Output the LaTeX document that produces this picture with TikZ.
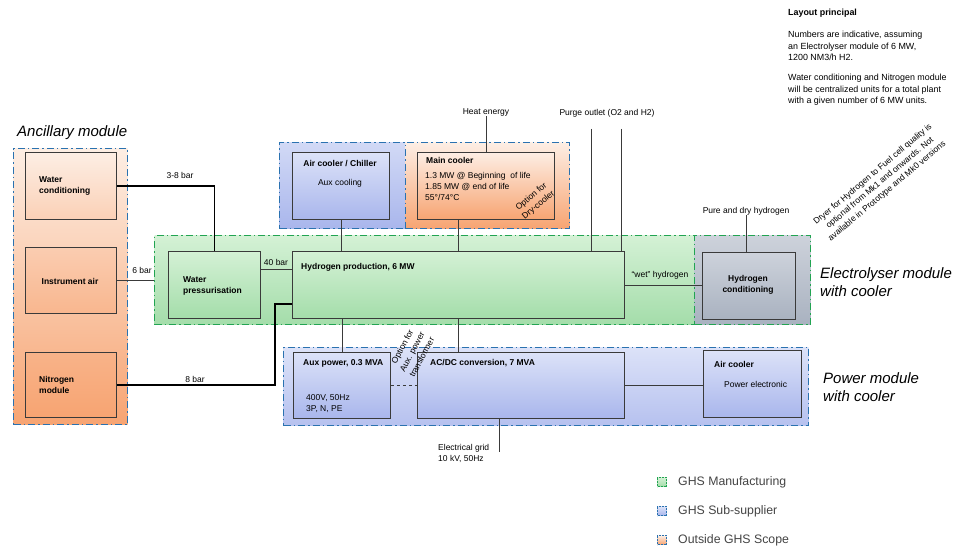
\documentclass[tikz,border=0pt]{standalone}
\usepackage{fontspec}
\setmainfont{Liberation Sans}
\usetikzlibrary{positioning}
% colours of the three scopes
\definecolor{orgtop}{HTML}{FDEEE4}
\definecolor{orgbot}{HTML}{F7A472}
\definecolor{blutop}{HTML}{DCE2F8}
\definecolor{blubot}{HTML}{A9B6EC}
\definecolor{grntop}{HTML}{D4F1D5}
\definecolor{grnbot}{HTML}{A4DDAA}
\definecolor{grytop}{HTML}{CDD2DB}
\definecolor{grybot}{HTML}{A9B2C0}
\definecolor{bluedash}{HTML}{2A72B0}
\definecolor{greendash}{HTML}{22A452}
\definecolor{boxline}{HTML}{3A3A3A}
\definecolor{legtext}{HTML}{444444}
\tikzset{
  module/.style={draw, line width=1.3pt, dash pattern=on 7pt off 3pt on 1.5pt off 3pt,
    anchor=north west, inner sep=0},
  unit/.style={draw=boxline, line width=0.8pt, anchor=north west, inner sep=0},
  tube/.style={draw=boxline, line width=0.7pt},
  pipe/.style={draw=black, line width=1.6pt},
  bx/.style={font=\fontsize{8.5}{11}\selectfont\bfseries, align=left, inner sep=0},
  sm/.style={font=\fontsize{8.5}{11}\selectfont, align=left, inner sep=0},
  note/.style={font=\fontsize{8.9}{11.3}\selectfont, align=left, inner sep=0, anchor=west},
  big/.style={font=\fontsize{15}{18}\selectfont\itshape, align=left, inner sep=0},
  legbox/.style={line width=1pt, dash pattern=on 2pt off 1pt, minimum size=9pt, inner sep=0},
  legtxt/.style={font=\fontsize{12.3}{14}\selectfont, text=legtext, anchor=west, inner sep=0},
}
\begin{document}
\begin{tikzpicture}[x=1pt,y=-1pt]
  \useasboundingbox[fill=white] (0,0) rectangle (966,553);

  % module frames
  \node[module, draw=bluedash, top color=orgtop, bottom color=orgbot,
    minimum width=114, minimum height=276] (anc) at (13,148) {};
  \node[module, draw=greendash, top color=grntop, bottom color=grnbot,
    minimum width=656, minimum height=89] (elec) at (154,235) {};
  \node[module, draw=greendash, top color=grytop, bottom color=grybot,
    minimum width=116, minimum height=89] (hcmod) at (694,235) {};
  \node[module, draw=bluedash, top color=blutop!80!blubot, bottom color=blubot,
    minimum width=126, minimum height=86] (acmod) at (279,142) {};
  \node[module, draw=bluedash, top color=orgtop, bottom color=orgbot,
    minimum width=164, minimum height=86] (mcmod) at (405,142) {};
  \node[module, draw=bluedash, top color=blutop, bottom color=blubot!85,
    minimum width=525, minimum height=78] (pwr) at (283,347) {};

  \node[big, anchor=west] at (17,133) {Ancillary module};
  \node[big, anchor=west] at (820,282) {Electrolyser module\\with cooler};
  \node[big, anchor=west] at (823,387) {Power module\\with cooler};

  % units
  \node[unit, top color=orgtop, bottom color=orgtop!60!orgbot,
    minimum width=91, minimum height=67] (wcond) at (25,152) {};
  \node[unit, top color=orgtop!55!orgbot, bottom color=orgtop!25!orgbot,
    minimum width=91, minimum height=66] (instr) at (25,247) {};
  \node[unit, top color=orgtop!20!orgbot, bottom color=orgbot,
    minimum width=91, minimum height=65] (nitro) at (25,352) {};
  \node[unit, top color=grntop, bottom color=grnbot,
    minimum width=92, minimum height=67] (wpres) at (168,251) {};
  \node[unit, top color=grntop, bottom color=grnbot,
    minimum width=332, minimum height=67] (h2prod) at (292,251) {};
  \node[unit, top color=grytop, bottom color=grybot,
    minimum width=93, minimum height=67] (h2cond) at (702,252) {};
  \node[unit, top color=blutop, bottom color=blubot,
    minimum width=97, minimum height=67] (aircool) at (292,152) {};
  \node[unit, top color=orgtop, bottom color=orgbot,
    minimum width=137, minimum height=67] (maincool) at (417,152) {};
  \node[unit, top color=blutop, bottom color=blubot,
    minimum width=97, minimum height=66] (aux) at (293,352) {};
  \node[unit, top color=blutop, bottom color=blubot,
    minimum width=207, minimum height=66] (acdc) at (417,352) {};
  \node[unit, top color=blutop, bottom color=blubot,
    minimum width=98, minimum height=67] (pcool) at (703,350) {};

  % unit texts
  \node[bx, anchor=west] at (39,186) {Water\\conditioning};
  \node[bx] at (70,281) {Instrument air};
  \node[bx, anchor=west] at (39,385) {Nitrogen\\module};
  \node[bx, anchor=west] at (183,286) {Water\\pressurisation};
  \node[bx, anchor=west] at (301,267) {Hydrogen production, 6 MW};
  \node[bx, align=center] at (748,285) {Hydrogen\\conditioning};
  \node[bx] at (340,164) {Air cooler / Chiller};
  \node[sm] at (340,183) {Aux cooling};
  \node[bx, anchor=west] at (426,160) {Main cooler};
  \node[sm, anchor=west] at (425,186) {1.3 MW @ Beginning\ \ of life\\1.85 MW @ end of life\\55°/74°C};
  \node[sm, align=center, rotate=40] at (535,201) {Option for\\Dry-cooler};
  \node[bx, anchor=west] at (303,363) {Aux power, 0.3 MVA};
  \node[sm, anchor=west] at (306,404) {400V, 50Hz\\3P, N, PE};
  \node[sm, align=center, rotate=62] at (412,352) {Option for\\Aux. power\\transformer};
  \node[bx, anchor=west] at (430,363) {AC/DC conversion, 7 MVA};
  \node[bx, anchor=west] at (714,364) {Air cooler};
  \node[sm, anchor=west] at (724,384) {Power electronic};

  % outside labels
  \node[sm] (heat) at (486,112) {Heat energy};
  \node[sm] at (607,113) {Purge outlet (O2 and H2)};
  \node[sm] (pure) at (746,211) {Pure and dry hydrogen};
  \node[sm] at (660,275) {“wet” hydrogen};
  \node[sm, anchor=west] at (438,453) {Electrical grid\\10 kV, 50Hz};
  \node[sm, align=center, rotate=40] at (880,183)
    {Dryer for Hydrogen to Fuel cell quality is\\optional from Mk1 and onwards. Not\\available in Prototype and Mk0 versions};
  \node[sm] at (180,175) {3-8 bar};
  \node[sm] at (142,270) {6 bar};
  \node[sm] at (276,262) {40 bar};
  \node[sm] at (195,379) {8 bar};

  % connectors
  \draw[pipe] (wcond.east) -| (wpres.north);
  \draw[tube] (instr.east) -- (instr.east -| elec.west);
  \coordinate (p40) at (wpres.east |- 0,269);
  \draw[tube] (p40) -- (p40 -| h2prod.west);
  \coordinate (n8) at (275,304);
  \draw[pipe] (nitro.east) -| (n8) -- (n8 -| h2prod.west);
  \draw[tube] (aircool.south) -- (aircool.south |- h2prod.north);
  \coordinate (mc) at (458,0);
  \draw[tube] (mc |- maincool.south) -- (mc |- h2prod.north);
  \draw[tube] (heat.south) -- (heat.south |- maincool.north);
  \coordinate (po1) at (591,129);
  \coordinate (po2) at (621,129);
  \draw[tube] (po1) -- (po1 |- h2prod.north);
  \draw[tube] (po2) -- (po2 |- h2prod.north);
  \draw[tube] (pure.south) -- (pure.south |- h2cond.north);
  \draw[tube] (h2prod.east) -- (h2prod.east -| h2cond.west);
  \draw[tube] (aux.north |- h2prod.south) -- (aux.north);
  \draw[tube] (mc |- h2prod.south) -- (mc |- acdc.north);
  \draw[tube, dashed] (aux.east) -- (aux.east -| acdc.west);
  \draw[tube] (acdc.east) -- (acdc.east -| pcool.west);
  \coordinate (eg) at (499,452);
  \draw[tube] (eg |- acdc.south) -- (eg);

  % notes
  \node[note, font=\fontsize{8.9}{11.3}\selectfont\bfseries] at (788,13) {Layout principal};
  \node[note] at (788,46)
    {Numbers are indicative, assuming\\an Electrolyser module of 6 MW,\\1200 NM3/h H2.};
  \node[note] at (788,90)
    {Water conditioning and Nitrogen module\\will be centralized units for a total plant\\with a given number of 6 MW units.};

  % legend
  \node[legbox, draw=greendash, top color=grntop, bottom color=grnbot] (lg1) at (662,482) {};
  \node[legbox, draw=bluedash, top color=blutop, bottom color=blubot] (lg2) at (662,511) {};
  \node[legbox, draw=bluedash, top color=orgtop, bottom color=orgbot] (lg3) at (662,540) {};
  \node[legtxt, right=11pt of lg1] {GHS Manufacturing};
  \node[legtxt, right=11pt of lg2] {GHS Sub-supplier};
  \node[legtxt, right=11pt of lg3] {Outside GHS Scope};
\end{tikzpicture}
\end{document}
